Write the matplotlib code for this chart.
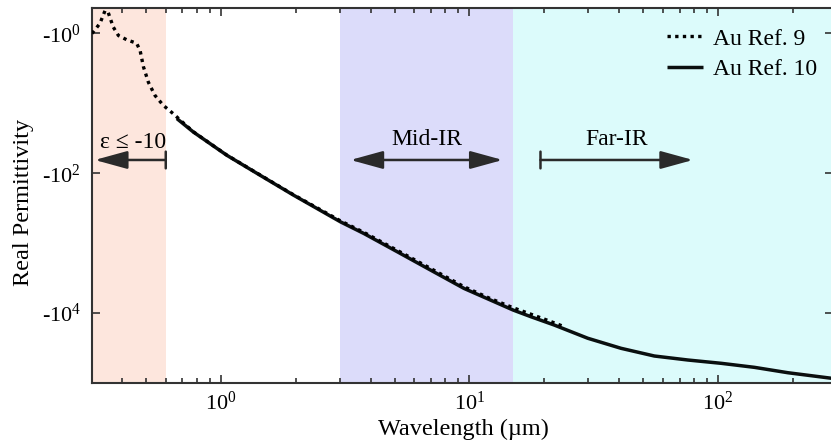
import numpy as np
import matplotlib
matplotlib.use("Agg")
import matplotlib.pyplot as plt
from matplotlib.ticker import FixedLocator, NullLocator, LogLocator, FuncFormatter, NullFormatter

plt.rcParams['font.family'] = ['Liberation Serif', 'DejaVu Serif']
plt.rcParams['mathtext.fontset'] = 'custom'
plt.rcParams['mathtext.rm'] = 'Liberation Serif'
plt.rcParams['mathtext.it'] = 'Liberation Serif:italic'
plt.rcParams['mathtext.bf'] = 'Liberation Serif:bold'

# ---------------- data ----------------
ref9_wavelength_um = [0.303, 0.326, 0.342, 0.352, 0.369, 0.387, 0.418, 0.458, 0.473, 0.488,
                      0.511, 0.543, 0.587, 0.644, 0.70, 0.775, 0.90, 1.057, 1.44, 1.96,
                      3.03, 3.76, 5.13, 6.98, 9.51, 12.0, 15.0, 17.7, 20.5, 24.0]
ref9_eps = [-1.0, -0.72, -0.47, -0.50, -0.81, -1.07, -1.23, -1.38, -1.75, -3.0,
            -5.0, -7.7, -10.7, -14.1, -18.5, -25.5, -37.0, -55.0, -106, -203,
            -480, -700, -1270, -2300, -4200, -6100, -8400, -10400, -12600, -15600]

ref10_wavelength_um = [0.665, 0.775, 1.057, 1.44, 1.962, 3.03, 3.76, 5.13, 6.98, 9.51,
                       15.0, 17.7, 21.9, 29.9, 40.7, 55.4, 75.6, 103, 140, 191, 289]
ref10_eps = [-16.5, -25.7, -55.3, -107, -206, -496, -727, -1330, -2430, -4440,
             -9060, -11300, -14800, -22900, -31900, -41100, -46900, -52300, -59700, -71300, -86000]

series_labels = ["Au Ref. 9", "Au Ref. 10"]

band_edges_um = {"eps": (0.3, 0.6), "mid": (3.0, 15.0), "far": (15.0, 1000.0)}
band_labels = ["\u03b5 \u2264 -10", "Mid-IR", "Far-IR"]

x_ticks = [1, 10, 100]
y_ticks = [1, 100, 10000]

# ---------------- figure ----------------
W, H = 831, 442
fig = plt.figure(figsize=(W / 100, H / 100), dpi=100)
ax = fig.add_axes([92 / W, (H - 383) / H, (W - 92) / W + 0.002, 375 / H])

ax.set_xscale('log')
ax.set_yscale('log')
ax.set_xlim(0.303, 289)
ax.set_ylim(1.0e5, 0.432)

# bands
ax.axvspan(*band_edges_um["eps"], color='#fde6dd', lw=0, zorder=0)
ax.axvspan(*band_edges_um["mid"], color='#dcdcfa', lw=0, zorder=0)
ax.axvspan(*band_edges_um["far"], color='#dcfbfb', lw=0, zorder=0)

line_col = '#0a0f0f'
ax.plot(ref10_wavelength_um, np.negative(ref10_eps), color=line_col, lw=2.5,
        solid_capstyle='butt', label=series_labels[1], zorder=3)
ax.plot(ref9_wavelength_um, np.negative(ref9_eps), color='black', lw=2.4,
        linestyle=(0, (1, 1.3)), label=series_labels[0], zorder=4)

# ticks
ax.xaxis.set_major_locator(FixedLocator(x_ticks))
ax.xaxis.set_minor_locator(LogLocator(base=10, subs=np.arange(2, 10), numticks=20))
ax.xaxis.set_minor_formatter(NullFormatter())
ax.xaxis.set_major_formatter(FuncFormatter(lambda v, p: r'$\mathregular{10^{%d}}$' % round(np.log10(v))))
ax.yaxis.set_major_locator(FixedLocator(y_ticks))
ax.yaxis.set_minor_locator(NullLocator())
ax.yaxis.set_major_formatter(FuncFormatter(lambda v, p: '-' + r'$\mathregular{10^{%d}}$' % round(np.log10(v))))

spine_col = '#333333'
for s in ax.spines.values():
    s.set_color(spine_col)
    s.set_linewidth(1.5)
ax.tick_params(which='both', direction='in', top=True, right=True, color=spine_col,
               labelsize=16, width=1.2)
ax.tick_params(which='major', length=6)
ax.tick_params(which='minor', length=3.5)
ax.tick_params(axis='y', pad=8)
ax.tick_params(axis='x', pad=6)

ax.set_xlabel('Wavelength (\u00b5m)', fontsize=17.5)
ax.set_ylabel('Real Permittivity', fontsize=17.5)
ax.xaxis.set_label_coords((463 - 92) / 739, -(419 - 383) / 375)
ax.yaxis.set_label_coords((34 - 92) / 739, (383 - 202) / 375)

# annotations
arrow_col = '#2a2a2a'
y_arrow = 64.5
ap = dict(arrowstyle='-|>,head_length=2.0,head_width=0.55', color=arrow_col, lw=1.8,
          shrinkA=0, shrinkB=0, mutation_scale=10)
ap2 = dict(arrowstyle='<|-|>,head_length=2.0,head_width=0.55', color=arrow_col, lw=1.8,
           shrinkA=0, shrinkB=0, mutation_scale=10)

# eps <= -10
ax.annotate('', xy=(0.311, y_arrow), xytext=(0.600, y_arrow), arrowprops=ap, zorder=5)
ax.annotate('', xy=(0.600, 49), xytext=(0.600, 85),
            arrowprops=dict(arrowstyle='-', color=arrow_col, lw=1.8, shrinkA=0, shrinkB=0))
ax.text(0.443, 36, band_labels[0], ha='center', va='center', fontsize=17)

# Mid-IR
ax.annotate('', xy=(13.6, y_arrow), xytext=(3.32, y_arrow), arrowprops=ap2, zorder=5)
ax.text(6.72, 32.5, band_labels[1], ha='center', va='center', fontsize=17)

# Far-IR
ax.annotate('', xy=(79.3, y_arrow), xytext=(19.3, y_arrow), arrowprops=ap, zorder=5)
ax.annotate('', xy=(19.3, 49), xytext=(19.3, 85),
            arrowprops=dict(arrowstyle='-', color=arrow_col, lw=1.8, shrinkA=0, shrinkB=0))
ax.text(39.0, 32.5, band_labels[2], ha='center', va='center', fontsize=17)

handles, labels = ax.get_legend_handles_labels()
order = [labels.index(series_labels[0]), labels.index(series_labels[1])]
leg = ax.legend([handles[i] for i in order], [labels[i] for i in order],
                loc='upper right', bbox_to_anchor=((815 - 92) / 739, 1 - 20 / 375), frameon=False,
                fontsize=17, handlelength=1.5, handletextpad=0.42, labelspacing=0.38,
                borderpad=0, borderaxespad=0)

fig.savefig('out.png', dpi=100)
